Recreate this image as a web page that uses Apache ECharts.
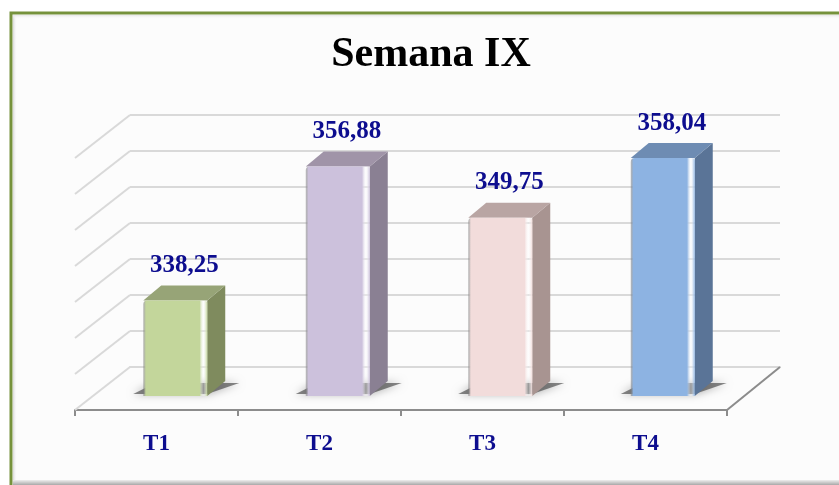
<!DOCTYPE html>
<html><head><meta charset="utf-8">
<script src="https://cdn.jsdelivr.net/npm/echarts@6/dist/echarts.min.js"></script>
<style>html,body{margin:0;padding:0;background:#fff}#c{width:839px;height:485px}</style>
</head><body><div id="c"></div>
<script>
const categories = ['T1', 'T2', 'T3', 'T4'];
const values = [338.25, 356.88, 349.75, 358.04];
const yTicks = [325, 330, 335, 340, 345, 350, 355, 360];
const frontColors = ['#c3d69b', '#ccc1dc', '#f2dcdb', '#8db3e2'];
const sideColors = ['#7f8b5e', '#8a8093', '#a89491', '#5a7497'];
const topColors = ['#97a477', '#a094a8', '#b9a5a3', '#6e8cb3'];

const Y_MIN = 325, Y_MAX = 360, Y_STEP = 5;
const DEPTH_X = -55, DEPTH_Y = 43;       // wall depth (back -> front)
const BAR_DX = -36, BAR_DY = 29;         // bar front plane offset
const BAR_W = 64, BAR_OX = 18, BAR_OY = -15;
const LABEL_COLOR = '#0d0d8f';
const SERIF = '"Liberation Serif", "DejaVu Serif", serif';

function fmt(v) { return v.toFixed(2).replace('.', ','); }

function renderFrame(params, api) {
  const cs = params.coordSys;
  const t = api.value(1);
  const p = api.coord([0, t]);
  const children = [{
    type: 'line',
    shape: { x1: cs.x, y1: p[1], x2: cs.x + DEPTH_X, y2: p[1] + DEPTH_Y },
    style: { stroke: '#d9d9d9', lineWidth: 2 }
  }];
  if (params.dataIndex === 0) {
    children.push({
      type: 'line',
      shape: { x1: cs.x + cs.width, y1: p[1], x2: cs.x + cs.width + DEPTH_X + 2, y2: p[1] + DEPTH_Y },
      style: { stroke: '#8c8c8c', lineWidth: 2 }
    });
  }
  return { type: 'group', children };
}

function renderBar(params, api) {
  const i = api.value(0);
  const v = api.value(1);
  const top = api.coord([i, v]);
  const base = api.coord([i, Y_MIN]);
  const cx = top[0] + BAR_DX;
  const x0 = cx - BAR_W / 2, x1 = cx + BAR_W / 2;
  const yt = top[1] + BAR_DY, yb = base[1] + BAR_DY;
  const front = frontColors[i];
  return {
    type: 'group',
    children: [
      { type: 'polygon', shape: { points: [[x0 - 10, yb - 2], [x1, yb - 2], [x1 + BAR_OX + 14, yb + BAR_OY + 2], [x0 + BAR_OX - 6, yb + BAR_OY + 2]] },
        style: { fill: 'rgba(40,40,40,0.55)', shadowBlur: 8, shadowColor: 'rgba(0,0,0,0.6)' } },
      { type: 'polygon', shape: { points: [[x1, yt], [x1 + BAR_OX, yt + BAR_OY], [x1 + BAR_OX, yb + BAR_OY], [x1, yb]] },
        style: { fill: sideColors[i] } },
      { type: 'polygon', shape: { points: [[x0, yt], [x1, yt], [x1 + BAR_OX, yt + BAR_OY], [x0 + BAR_OX, yt + BAR_OY]] },
        style: { fill: topColors[i] } },
      { type: 'rect', shape: { x: x0, y: yt, width: BAR_W, height: yb - yt, r: [4, 3, 0, 0] },
        style: { fill: new echarts.graphic.LinearGradient(0, 0, 1, 0, [
          { offset: 0, color: 'rgba(120,120,120,0.5)' },
          { offset: 0.04, color: front },
          { offset: 0.88, color: front },
          { offset: 0.94, color: 'rgba(255,255,255,0.3)' },
          { offset: 1, color: front }
        ]) } },
      { type: 'text', x: cx + 9, y: yt - 35,
        style: { text: fmt(v), font: 'bold 25px ' + SERIF, fill: LABEL_COLOR, align: 'center', verticalAlign: 'middle' } }
    ]
  };
}

const chart = echarts.init(document.getElementById('c'), null, { renderer: 'canvas' });
chart.setOption({
  backgroundColor: '#ffffff',
  animation: false,
  title: {
    text: 'Semana IX', left: 431, top: 34, textAlign: 'center', padding: 0,
    textStyle: { fontFamily: SERIF, fontWeight: 'bold', fontSize: 42, color: '#000' }
  },
  graphic: { elements: [
    { type: 'rect', z: -10, shape: { x: 11, y: 13, width: 840, height: 480 },
      style: { fill: '#fcfcfc', stroke: '#76923c', lineWidth: 3 } },
    { type: 'rect', z: -9, shape: { x: 13, y: 15, width: 4, height: 470 },
      style: { fill: new echarts.graphic.LinearGradient(0, 0, 1, 0, [{ offset: 0, color: '#d8d8d8' }, { offset: 1, color: 'rgba(252,252,252,0)' }]) } },
    { type: 'rect', z: -9, shape: { x: 13, y: 15, width: 830, height: 4 },
      style: { fill: new echarts.graphic.LinearGradient(0, 0, 0, 1, [{ offset: 0, color: '#e6e6e6' }, { offset: 1, color: 'rgba(252,252,252,0)' }]) } },
    { type: 'rect', z: -9, shape: { x: 13, y: 480, width: 830, height: 5 },
      style: { fill: new echarts.graphic.LinearGradient(0, 0, 0, 1, [{ offset: 0, color: '#eeeeee' }, { offset: 1, color: '#a8a8a8' }]) } }
  ] },
  grid: [
    { left: 130, right: 59, top: 115, bottom: 118 },
    { left: 75, right: 112, top: 115, bottom: 75 }
  ],
  xAxis: [
    { type: 'category', gridIndex: 0, data: categories,
      axisLine: { show: true, lineStyle: { color: '#d9d9d9', width: 2 } },
      axisTick: { show: false }, axisLabel: { show: false }, splitLine: { show: false } },
    { type: 'category', gridIndex: 1, data: categories,
      axisLine: { show: true, lineStyle: { color: '#8c8c8c', width: 2 } },
      axisTick: { show: true, length: 6, lineStyle: { color: '#8c8c8c', width: 2 } },
      axisLabel: { margin: 23, fontFamily: SERIF, fontWeight: 'bold', fontSize: 23, color: LABEL_COLOR },
      splitLine: { show: false } }
  ],
  yAxis: [
    { type: 'value', gridIndex: 0, min: Y_MIN, max: Y_MAX, interval: Y_STEP,
      axisLine: { show: false }, axisTick: { show: false }, axisLabel: { show: false },
      splitLine: { show: true, lineStyle: { color: '#d9d9d9', width: 2 } } },
    { type: 'value', gridIndex: 1, min: Y_MIN, max: Y_MAX, show: false, splitLine: { show: false } }
  ],
  series: [
    { type: 'custom', name: 'frame', xAxisIndex: 0, yAxisIndex: 0, z: 1, silent: true,
      renderItem: renderFrame, data: yTicks.map(t => [0, t]), encode: { x: 0, y: 1 } },
    { type: 'custom', name: 'Semana IX', xAxisIndex: 0, yAxisIndex: 0, z: 3,
      renderItem: renderBar, data: values.map((v, i) => [i, v]), encode: { x: 0, y: 1 } }
  ]
});
</script>
</body></html>
